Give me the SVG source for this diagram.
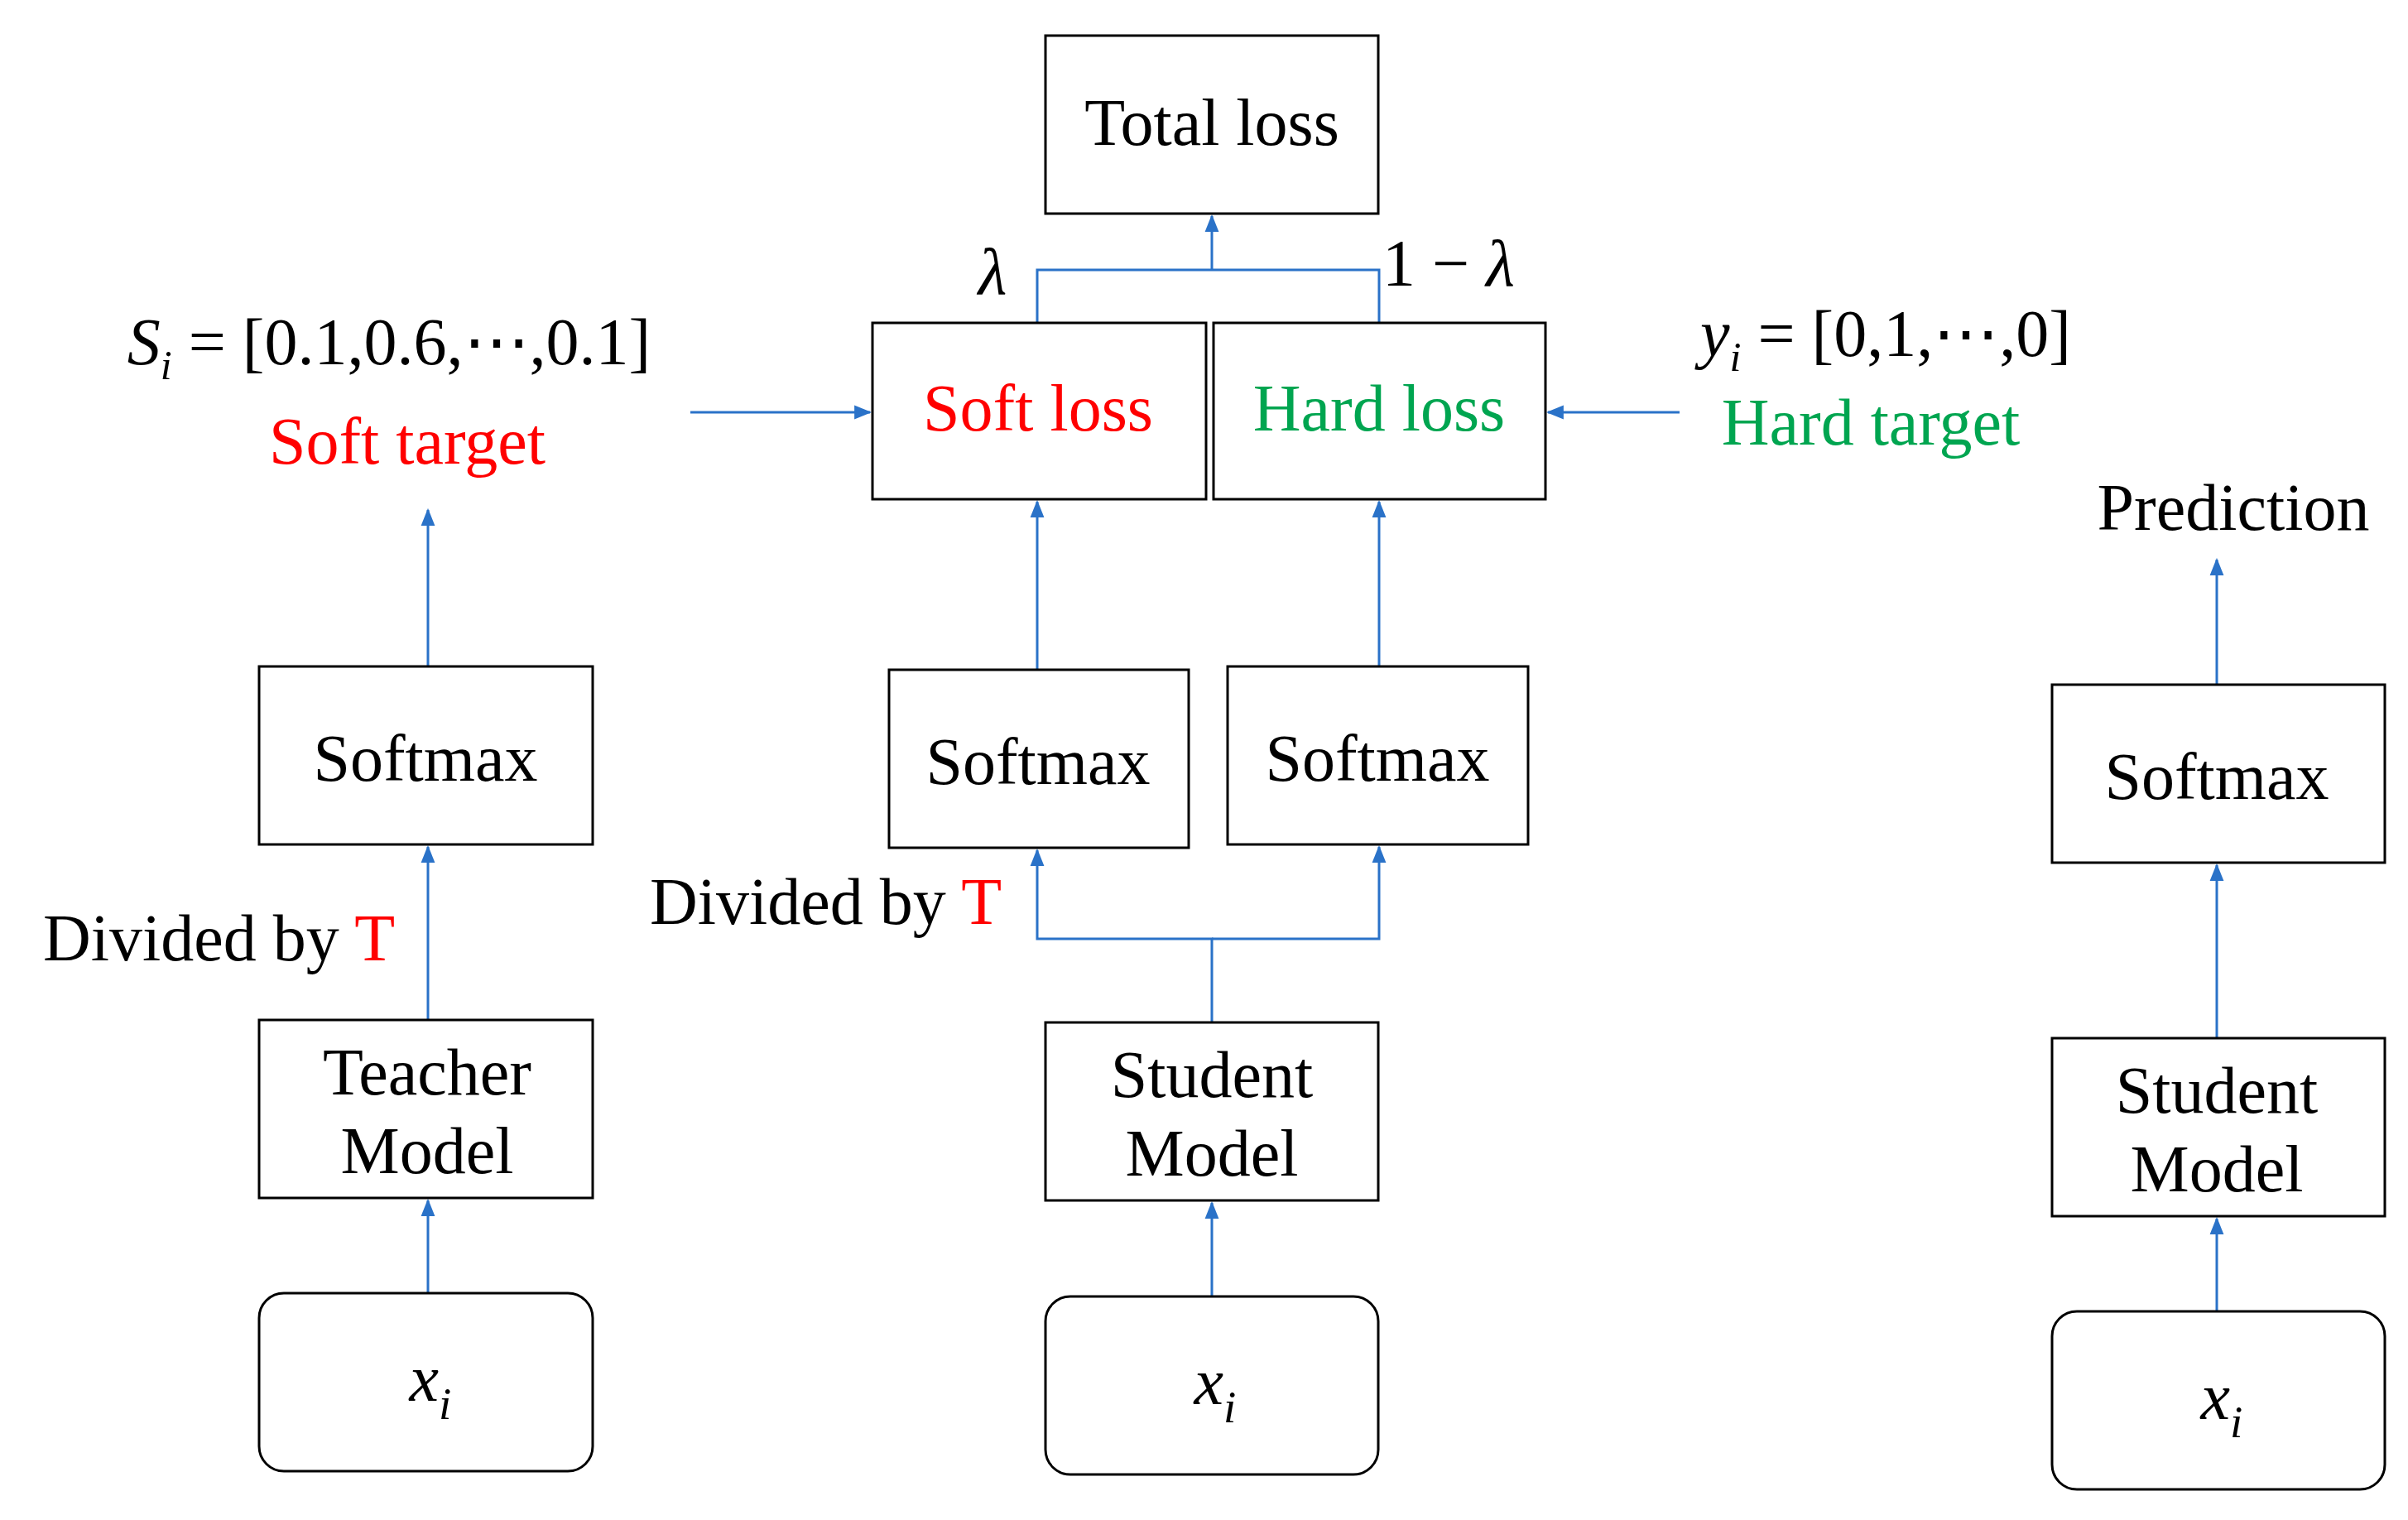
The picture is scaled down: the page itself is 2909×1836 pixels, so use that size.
<svg xmlns="http://www.w3.org/2000/svg" width="2909" height="1836" viewBox="0 0 2909 1836">
<style>
.b{fill:#fff;stroke:#000;stroke-width:3}
.t{font-family:"Liberation Serif",serif;font-size:80px;text-anchor:middle;fill:#000}
.i{font-style:italic}
.c{fill:none;stroke:#2a72c8;stroke-width:3}
</style>
<defs><marker id="a" viewBox="0 0 10 10" refX="9" refY="5" markerWidth="7" markerHeight="7" orient="auto"><path d="M0,1L10,5L0,9z" fill="#2a72c8"/></marker></defs>
<rect width="2909" height="1836" fill="#fff"/>
<g id="connectors">
<path class="c" d="M517,1562V1450" marker-end="url(#a)"/>
<path class="c" d="M517,1232V1023" marker-end="url(#a)"/>
<path class="c" d="M517,805V616" marker-end="url(#a)"/>
<path class="c" d="M1464,1781V1453" marker-end="url(#a)"/>
<path class="c" d="M1464,1235V1134H1253V1027" marker-end="url(#a)"/>
<path class="c" d="M1464,1134H1666V1023" marker-end="url(#a)"/>
<path class="c" d="M1253,809V606" marker-end="url(#a)"/>
<path class="c" d="M1666,805V606" marker-end="url(#a)"/>
<path class="c" d="M1253,390V326H1666V390"/>
<path class="c" d="M1464,326V261" marker-end="url(#a)"/>
<path class="c" d="M834,498H1051" marker-end="url(#a)"/>
<path class="c" d="M2029,498H1870" marker-end="url(#a)"/>
<path class="c" d="M2678,1584V1472" marker-end="url(#a)"/>
<path class="c" d="M2678,1254V1045" marker-end="url(#a)"/>
<path class="c" d="M2678,827V676" marker-end="url(#a)"/>
</g>
<g id="total"><rect class="b" x="1263" y="43" width="402" height="215"/><text class="t" x="1464" y="175">Total loss</text></g>
<g id="softloss"><rect class="b" x="1054" y="390" width="403" height="213"/><text class="t" x="1254" y="520" fill="#f00" style="fill:#f00">Soft loss</text></g>
<g id="hardloss"><rect class="b" x="1466" y="390" width="401" height="213"/><text class="t" x="1666" y="520" style="fill:#00a550">Hard loss</text></g>
<g id="sm1"><rect class="b" x="313" y="805" width="403" height="215"/><text class="t" x="514" y="943">Softmax</text></g>
<g id="sm2"><rect class="b" x="1074" y="809" width="362" height="215"/><text class="t" x="1254" y="947">Softmax</text></g>
<g id="sm3"><rect class="b" x="1483" y="805" width="363" height="215"/><text class="t" x="1664" y="943">Softmax</text></g>
<g id="sm4"><rect class="b" x="2479" y="827" width="402" height="215"/><text class="t" x="2678" y="965">Softmax</text></g>
<g id="teacher"><rect class="b" x="313" y="1232" width="403" height="215"/><text class="t" x="516" y="1322">Teacher</text><text class="t" x="516" y="1417">Model</text></g>
<g id="student1"><rect class="b" x="1263" y="1235" width="402" height="215"/><text class="t" x="1464" y="1325">Student</text><text class="t" x="1464" y="1420">Model</text></g>
<g id="student2"><rect class="b" x="2479" y="1254" width="402" height="215"/><text class="t" x="2678" y="1344">Student</text><text class="t" x="2678" y="1439">Model</text></g>
<g id="x1"><rect class="b" x="313" y="1562" width="403" height="215" rx="30"/><text class="t i" x="520" y="1692">x<tspan font-size="55" dy="22">i</tspan></text></g>
<g id="x2"><rect class="b" x="1263" y="1566" width="402" height="215" rx="30"/><text class="t i" x="1468" y="1696">x<tspan font-size="55" dy="22">i</tspan></text></g>
<g id="x3"><rect class="b" x="2479" y="1584" width="402" height="215" rx="30"/><text class="t i" x="2684" y="1714">x<tspan font-size="55" dy="22">i</tspan></text></g>
<g id="labels">
<text class="t i" x="1199" y="355">λ</text>
<text class="t" x="1750" y="345">1 − <tspan class="i">λ</tspan></text>
<text class="t" x="470" y="440"><tspan class="i">S</tspan><tspan font-size="50" dy="18" class="i">i</tspan><tspan dy="-18"> = [0.1,0.6,⋯,0.1]</tspan></text>
<text class="t" x="492" y="560" style="fill:#f00">Soft target</text>
<text class="t" x="2278" y="430"><tspan class="i">y</tspan><tspan font-size="50" dy="18" class="i">i</tspan><tspan dy="-18"> = [0,1,⋯,0]</tspan></text>
<text class="t" x="2260" y="537" style="fill:#00a550">Hard target</text>
<text class="t" x="2698" y="640">Prediction</text>
<text class="t" x="52" y="1160" text-anchor="start" style="text-anchor:start">Divided by <tspan fill="#f00">T</tspan></text>
<text class="t" x="785" y="1116" style="text-anchor:start">Divided by <tspan fill="#f00">T</tspan></text>
</g>
</svg>
